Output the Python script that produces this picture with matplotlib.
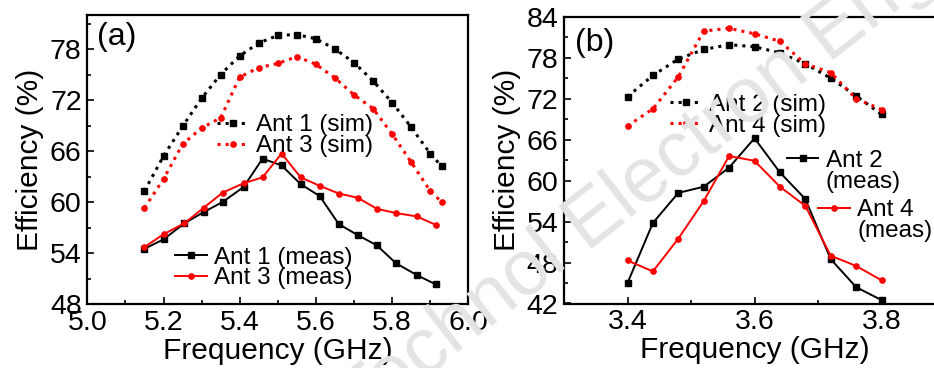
import matplotlib
matplotlib.use("Agg")
import matplotlib.pyplot as plt
from matplotlib.lines import Line2D

plt.rcParams['font.family'] = ['Liberation Sans', 'DejaVu Sans']

# ---------------- Panel (a) data ----------------
freq_a_sim = [5.15, 5.20, 5.25, 5.30, 5.35, 5.40, 5.45, 5.50, 5.55, 5.60,
              5.65, 5.70, 5.75, 5.80, 5.85, 5.90, 5.93]
ant1_sim = [61.3, 65.4, 68.9, 72.2, 75.0, 77.2, 78.7, 79.6, 79.7, 79.2,
            78.0, 76.4, 74.25, 71.7, 68.8, 65.7, 64.2]
ant3_sim = [59.3, 62.7, 66.8, 68.7, 69.9, 74.7, 75.8, 76.3, 77.1, 76.2,
            74.6, 72.6, 71.0, 68.0, 64.7, 61.3, 60.0]

freq_a_meas = [5.15, 5.20, 5.255, 5.305, 5.355, 5.41, 5.46, 5.51, 5.56, 5.61,
               5.66, 5.71, 5.76, 5.81, 5.865, 5.915]
ant1_meas = [54.5, 55.6, 57.5, 58.8, 60.0, 61.75, 65.1, 64.3, 62.1, 60.7,
             57.4, 56.1, 54.9, 52.8, 51.4, 50.3]
ant3_meas = [54.7, 56.2, 57.5, 59.3, 61.1, 62.2, 62.9, 65.7, 62.9, 61.9,
             61.0, 60.5, 59.2, 58.7, 58.3, 57.3]

# ---------------- Panel (b) data ----------------
freq_b = [3.40, 3.44, 3.48, 3.52, 3.56, 3.60, 3.64, 3.68, 3.72, 3.76, 3.80]
ant2_sim = [72.3, 75.4, 77.8, 79.2, 79.9, 79.6, 78.7, 77.1, 75.0, 72.4, 69.7]
ant4_sim = [68.0, 70.5, 75.2, 81.9, 82.3, 81.5, 80.4, 77.1, 75.8, 72.0, 70.4]
ant2_meas = [45.0, 53.8, 58.2, 59.1, 61.9, 66.2, 61.2, 57.3, 48.5, 44.4, 42.5]
ant4_meas = [48.3, 46.7, 51.5, 57.0, 63.6, 62.9, 59.1, 56.3, 49.0, 47.5, 45.4]

xticks_a = [5.0, 5.2, 5.4, 5.6, 5.8, 6.0]
yticks_a = [48, 54, 60, 66, 72, 78]
xticks_b = [3.4, 3.6, 3.8]
yticks_b = [42, 48, 54, 60, 66, 72, 78, 84]

W, H = 934, 368
fig = plt.figure(figsize=(W / 100, H / 100), dpi=100)

# watermark (drawn behind transparent axes)
WM_ROT = 38
wm_kw = dict(fontsize=56, color='#e4e4e4', rotation=WM_ROT,
             rotation_mode='anchor', va='baseline', zorder=0)
fig.text(587 / W, (H - 252) / H, "Front Inform Technol ", ha='right', **wm_kw)
fig.text(587 / W, (H - 252) / H, "Electron Eng", ha='left', **wm_kw)

ax_a = fig.add_axes([87.3 / W, (H - 304) / H, 381 / W, 289 / H])
ax_b = fig.add_axes([564 / W, (H - 303.5) / H, 381 / W, 286.8 / H])

FS_TICK = 20.5
FS_LAB = 21.5
FS_LEG = 17.5

sim_kw = dict(linestyle=':', linewidth=2.2, markersize=3.8)
meas_kw = dict(linestyle='-', linewidth=1.4, markersize=3.8)

for ax in (ax_a, ax_b):
    ax.set_facecolor('none')
    for s in ax.spines.values():
        s.set_linewidth(1.6)
    ax.tick_params(which='both', direction='in', top=False, right=False,
                   labelsize=FS_TICK, width=1.2)
    ax.tick_params(which='major', length=5, pad=4)
    ax.tick_params(which='minor', length=3)
    ax.set_xlabel("Frequency (GHz)", fontsize=FS_LAB, labelpad=1)
    ax.set_ylabel("Efficiency (%)", fontsize=FS_LAB, labelpad=4)

# ---- panel (a)
l1s, = ax_a.plot(freq_a_sim, ant1_sim, color='black', marker='s', label='Ant 1 (sim)', **sim_kw)
l3s, = ax_a.plot(freq_a_sim, ant3_sim, color='red', marker='o', label='Ant 3 (sim)', **sim_kw)
l1m, = ax_a.plot(freq_a_meas, ant1_meas, color='black', marker='s', label='Ant 1 (meas)', **meas_kw)
l3m, = ax_a.plot(freq_a_meas, ant3_meas, color='red', marker='o', label='Ant 3 (meas)', **meas_kw)
ax_a.set_xlim(5.0, 6.0)
ax_a.set_ylim(48, 82)
ax_a.set_xticks(xticks_a)
ax_a.set_xticklabels([f"{v:.1f}" for v in xticks_a])
ax_a.set_xticks([5.1, 5.3, 5.5, 5.7, 5.9], minor=True)
ax_a.set_yticks(yticks_a)
ax_a.set_yticks([51, 57, 63, 69, 75, 81], minor=True)
ax_a.text(0.025, 0.975, "(a)", transform=ax_a.transAxes, fontsize=23,
          ha='left', va='top')

leg_kw = dict(frameon=False, fontsize=FS_LEG, borderpad=0, borderaxespad=0,
              handlelength=1.3, handletextpad=0.3, labelspacing=-0.05,
              loc='upper left')
leg1 = ax_a.legend(handles=[l1s, l3s], bbox_to_anchor=(0.34, 0.656), **leg_kw)
ax_a.add_artist(leg1)
ax_a.legend(handles=[l1m, l3m], bbox_to_anchor=(0.23, 0.199), **leg_kw)

# ---- panel (b)
l2s, = ax_b.plot(freq_b, ant2_sim, color='black', marker='s', label='Ant 2 (sim)', **sim_kw)
l4s, = ax_b.plot(freq_b, ant4_sim, color='red', marker='o', label='Ant 4 (sim)', **sim_kw)
l2m, = ax_b.plot(freq_b, ant2_meas, color='black', marker='s', label='Ant 2', **meas_kw)
l4m, = ax_b.plot(freq_b, ant4_meas, color='red', marker='o', label='Ant 4', **meas_kw)
ax_b.set_xlim(3.3, 3.9)
ax_b.set_ylim(42, 84)
ax_b.set_xticks(xticks_b)
ax_b.set_xticklabels([f"{v:.1f}" for v in xticks_b])
ax_b.set_xticks([3.5, 3.7], minor=True)
ax_b.set_yticks(yticks_b)
ax_b.set_yticks([45, 51, 57, 63, 69, 75, 81], minor=True)
ax_b.text(0.029, 0.96, "(b)", transform=ax_b.transAxes, fontsize=23,
          ha='left', va='top')

blank = Line2D([], [], linestyle='none')
lb1 = ax_b.legend(handles=[l2s, l4s], bbox_to_anchor=(0.278, 0.731), **leg_kw)
ax_b.add_artist(lb1)
lb2 = ax_b.legend(handles=[l2m, blank], labels=['Ant 2', '(meas)'],
                  bbox_to_anchor=(0.585, 0.536), **leg_kw)
ax_b.add_artist(lb2)
ax_b.legend(handles=[l4m, blank], labels=['Ant 4', '(meas)'],
            bbox_to_anchor=(0.667, 0.363), **leg_kw)

fig.savefig("out.png", dpi=100)
